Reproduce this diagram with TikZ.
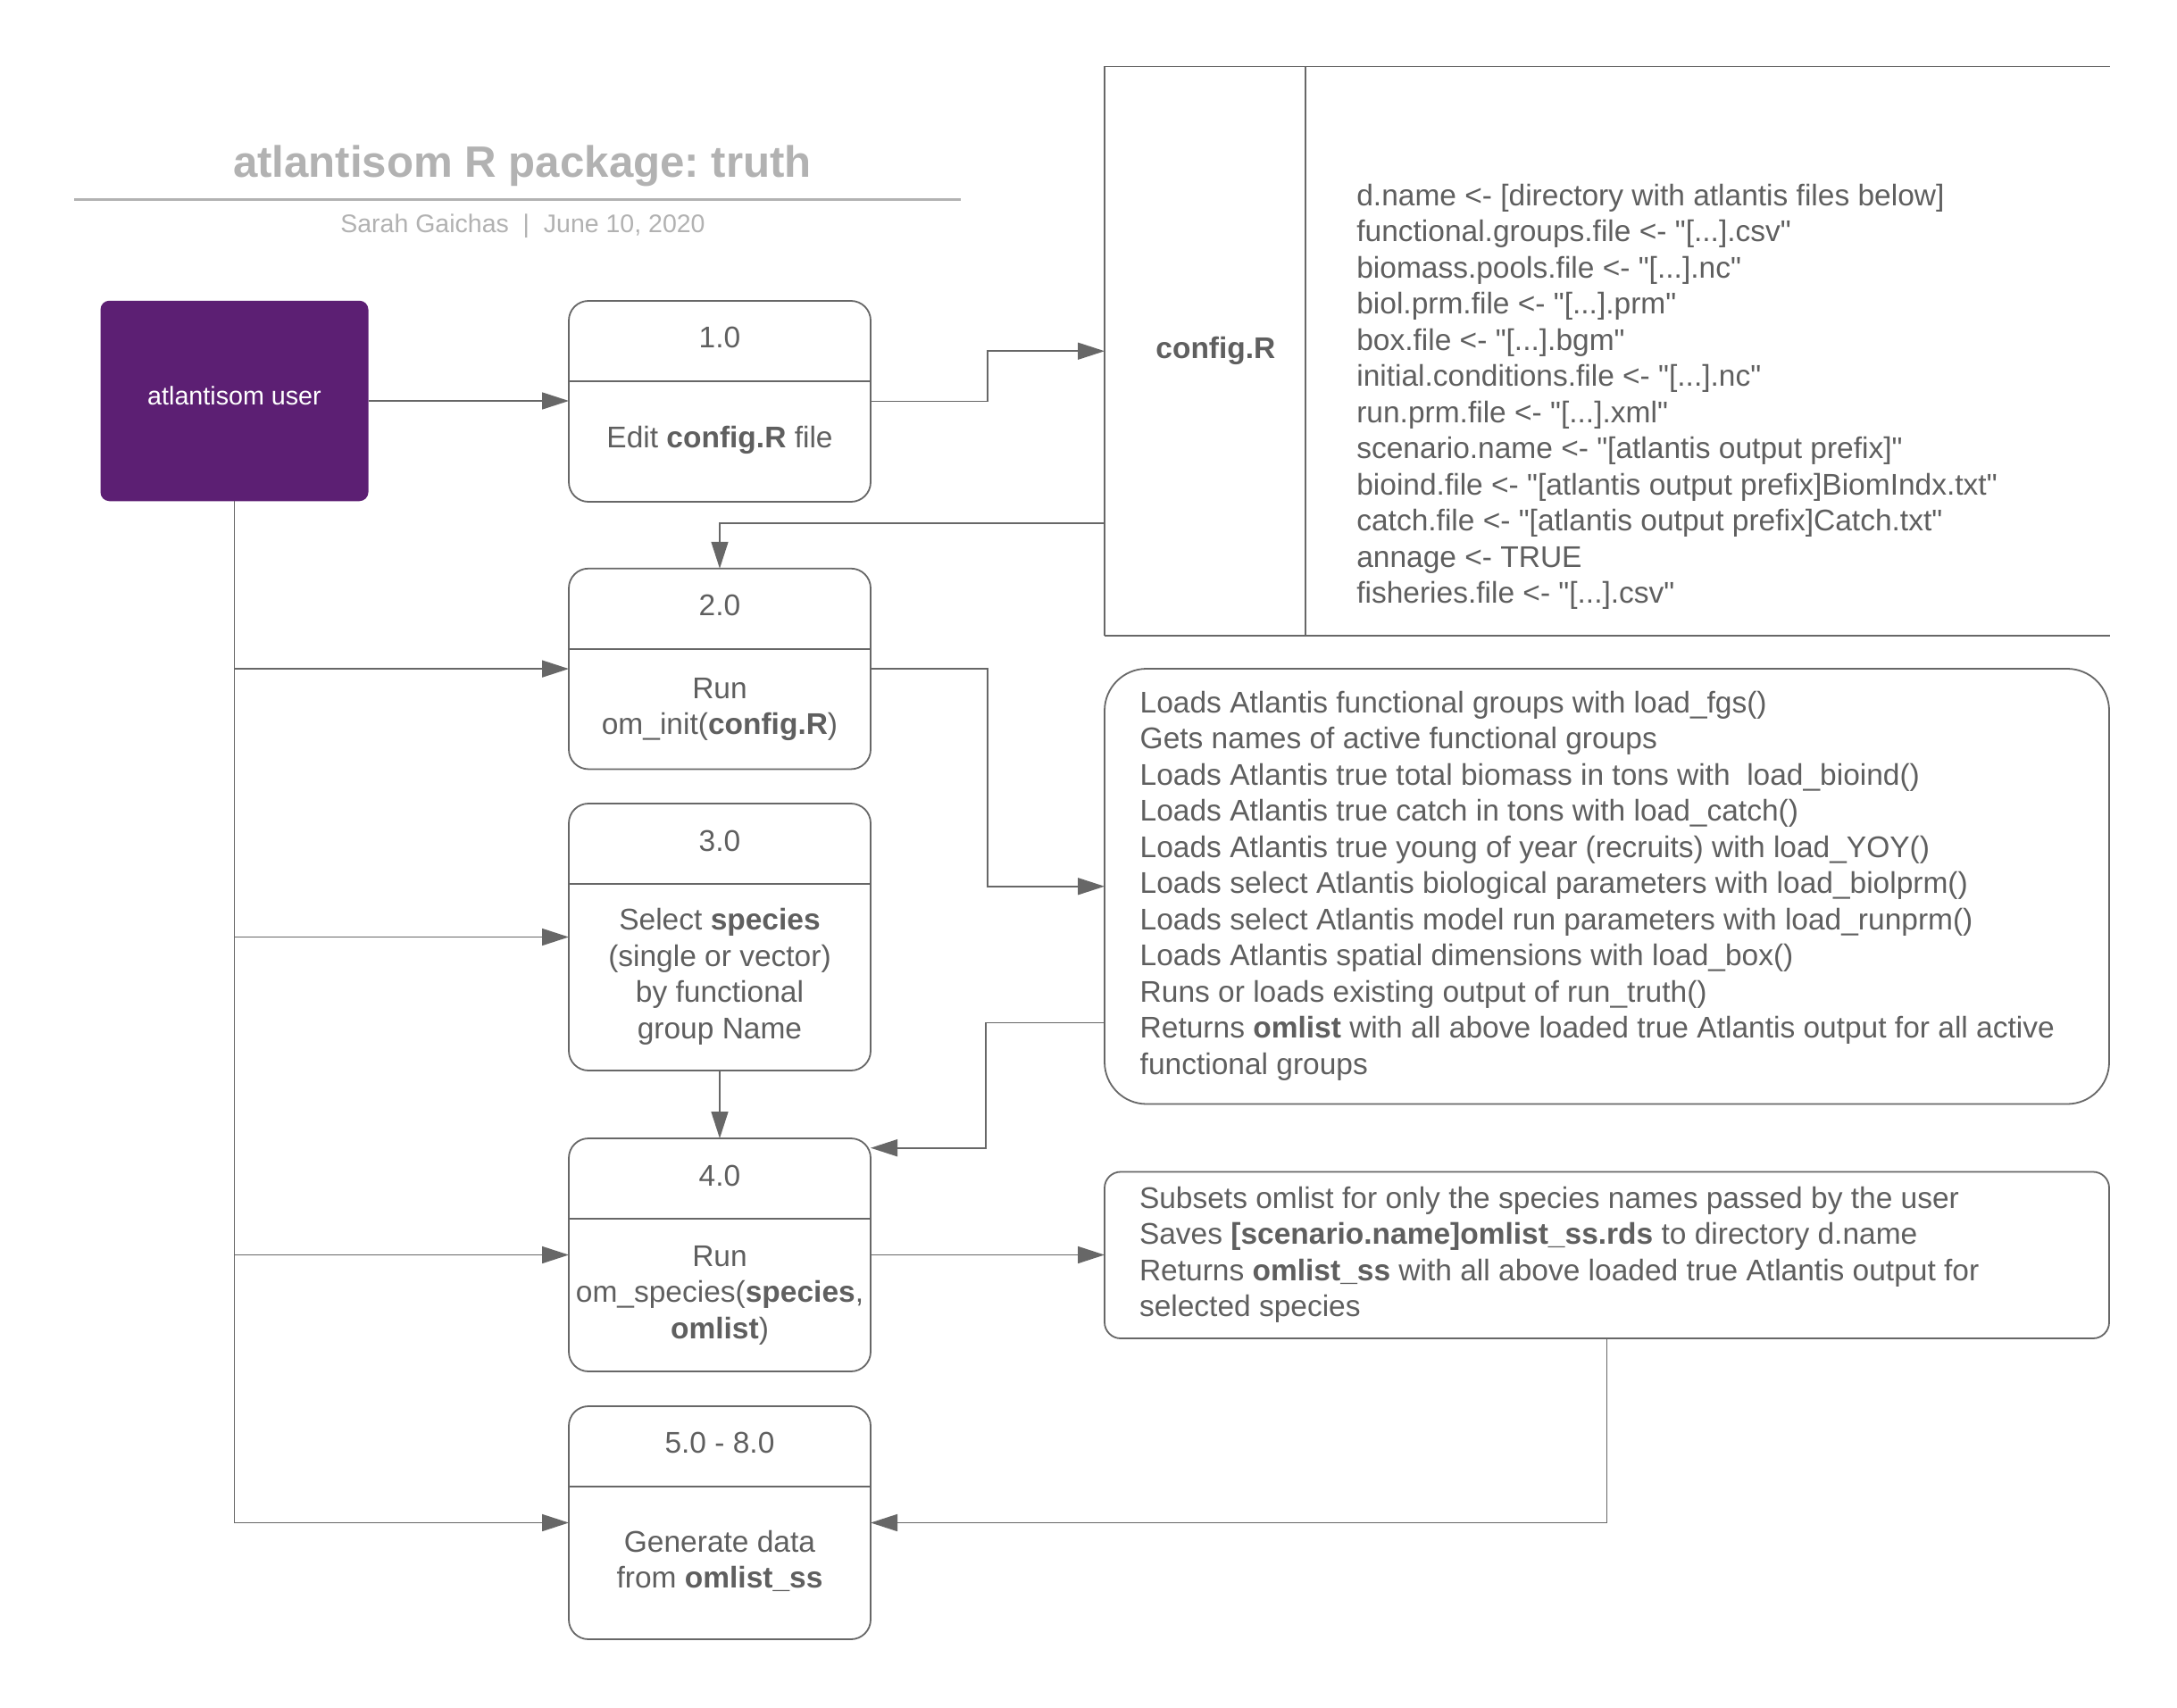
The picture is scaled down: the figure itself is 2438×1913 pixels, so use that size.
\documentclass[tikz,border=0pt]{standalone}
\usepackage{fontspec}
\setmainfont{Liberation Sans}[Ligatures=TeXOff]
\usetikzlibrary{arrows.meta,calc}
\definecolor{txt}{HTML}{5F5F5F}
\definecolor{ln}{HTML}{676767}
\definecolor{ttl}{HTML}{B2B2B2}
\definecolor{purp}{HTML}{5C1F73}
\newcommand{\bodyfont}{\fontsize{33.5}{40.5}\selectfont}
\newcommand{\lstrut}{\rule[-0.2em]{0pt}{1.12em}}
\frenchspacing
\begin{document}
\begin{tikzpicture}[x=1pt,y=-1pt,
  arr/.style={draw=ln,line width=1.6pt,-{Triangle[length=30pt,width=19pt]}},
  conn/.style={draw=ln,line width=1.6pt},
  procbox/.style={draw=ln,line width=1.8pt,rounded corners=22pt,minimum width=338pt,inner sep=0pt,outer sep=0pt},
  divline/.style={draw=ln,line width=1.5pt},
  lbl/.style={inner sep=0pt,outer sep=0pt,text=txt,font=\bodyfont,align=center},
  lbll/.style={inner sep=0pt,outer sep=0pt,text=txt,font=\bodyfont,align=left,anchor=west},
  frame/.style={inner sep=0pt,outer sep=0pt}
]
\useasboundingbox[fill=white] (0,0) rectangle (2438,1913);

% title block
\node[anchor=base,inner sep=0pt,text=ttl,font=\fontsize{49.2}{58}\selectfont\bfseries] (title) at (585,198.5) {atlantisom R package: truth};
\draw[ttl,line width=3.7pt] (83.3,223.5) -- (1076.2,223.5);
\node[anchor=base,inner sep=0pt,text=ttl,font=\fontsize{28.5}{34}\selectfont] (subtitle) at (585.5,260) {Sarah Gaichas\ \ |\ \ June 10, 2020};

% user
\node[frame,fill=purp,rounded corners=10pt,minimum width=300pt,minimum height=224.5pt] (user) at (262.5,449) {};
\node[anchor=base,inner sep=0pt,text=white,font=\fontsize{28.7}{34}\selectfont] (ulbl) at (262.5,453.3) {atlantisom user};

% process boxes
\node[procbox,minimum height=225pt] (b1) at (806,449.5) {};
\node[procbox,minimum height=224.7pt] (b2) at (806,749.1) {};
\node[procbox,minimum height=299pt] (b3) at (806,1049.5) {};
\node[procbox,minimum height=261pt] (b4) at (806,1405.5) {};
\node[procbox,minimum height=261pt] (b5) at (806,1705.5) {};
\foreach \b in {b1,b2,b3,b4,b5}{
  \draw[divline] ([yshift=-90pt]\b.north west) -- ([yshift=-90pt]\b.north east);
}
\node[lbl] (h1) at (806,377.5) {\lstrut 1.0};
\node[lbl] (t1) at (806,489.7) {\lstrut Edit \textbf{config.R} file};
\node[lbl] (h2) at (806,677.8) {\lstrut 2.0};
\node[lbl] (t2) at (806,790.6) {\lstrut Run\\\lstrut om\_init(\textbf{config.R})};
\node[lbl] (h3) at (806,941) {\lstrut 3.0};
\node[lbl] (t3) at (806,1090.8) {\lstrut Select \textbf{species}\\\lstrut (single or vector)\\\lstrut by functional\\\lstrut group Name};
\node[lbl] (h4) at (806,1316.5) {\lstrut 4.0};
\node[lbl] (t4) at (806,1446.9) {\lstrut Run\\\lstrut om\_species(\textbf{species},\\\lstrut \textbf{omlist})};
\node[lbl] (h5) at (806,1615.5) {\lstrut 5.0 - 8.0};
\node[lbl] (t5) at (806,1746.2) {\lstrut Generate data\\\lstrut from \textbf{omlist\_ss}};

% config.R table
\node[frame,minimum width=1125.5pt,minimum height=637.5pt] (cfg) at (1799.75,393.25) {};
\draw[ln,line width=1.2pt] (cfg.north west) -- (cfg.north east);
\draw[ln,line width=1.6pt] (cfg.north west) -- (cfg.south west);
\draw[ln,line width=1.4pt] ([xshift=225pt]cfg.north west) -- ([xshift=225pt]cfg.south west);
\draw[ln,line width=2.6pt] (cfg.south west) -- (cfg.south east);
\node[lbl,font=\bodyfont\bfseries] (cfgname) at (1361.4,390) {\lstrut config.R};
\node[lbll] (cfgtext) at (1519.3,440.9) {%
\lstrut d.name <- [directory with atlantis files below]\\
\lstrut functional.groups.file <- "[...].csv"\\
\lstrut biomass.pools.file <- "[...].nc"\\
\lstrut biol.prm.file <- "[...].prm"\\
\lstrut box.file <- "[...].bgm"\\
\lstrut initial.conditions.file <- "[...].nc"\\
\lstrut run.prm.file <- "[...].xml"\\
\lstrut scenario.name <- "[atlantis output prefix]"\\
\lstrut bioind.file <- "[atlantis output prefix]BiomIndx.txt"\\
\lstrut catch.file <- "[atlantis output prefix]Catch.txt"\\
\lstrut annage <- TRUE\\
\lstrut fisheries.file <- "[...].csv"};

% load box
\node[frame,draw=ln,line width=1.8pt,rounded corners=47pt,minimum width=1125pt,minimum height=487.5pt] (load) at (1799.5,992.75) {};
\node[lbll] (loadtext) at (1276.7,988.7) {%
\lstrut Loads Atlantis functional groups with load\_fgs()\\
\lstrut Gets names of active functional groups\\
\lstrut Loads Atlantis true total biomass in tons with\ \ load\_bioind()\\
\lstrut Loads Atlantis true catch in tons with load\_catch()\\
\lstrut Loads Atlantis true young of year (recruits) with load\_YOY()\\
\lstrut Loads select Atlantis biological parameters with load\_biolprm()\\
\lstrut Loads select Atlantis model run parameters with load\_runprm()\\
\lstrut Loads Atlantis spatial dimensions with load\_box()\\
\lstrut Runs or loads existing output of run\_truth()\\
\lstrut Returns \textbf{omlist} with all above loaded true Atlantis output for all active\\
\lstrut functional groups};

% subsets box
\node[frame,draw=ln,line width=1.8pt,rounded corners=18pt,minimum width=1125pt,minimum height=186.5pt] (subs) at (1799.5,1405.75) {};
\node[lbll] (substext) at (1276,1401.9) {%
\lstrut Subsets omlist for only the species names passed by the user\\
\lstrut Saves \textbf{[scenario.name]omlist\_ss.rds} to directory d.name\\
\lstrut Returns \textbf{omlist\_ss} with all above loaded true Atlantis output for\\
\lstrut selected species};

% connectors
\draw[arr] (user.east) -- (user.east -| b1.west);
\draw[arr] (b1.east) -- ([xshift=131pt]b1.east) |- (cfg.west);
\draw[arr] ([yshift=-192.5pt]cfg.west) -| (b2.north);
\draw[arr] (b2.east) -- ([xshift=131pt]b2.east) |- (load.west);
\draw[arr] ([yshift=-152.6pt]load.west) -| ([xshift=129pt,yshift=-10.7pt]b4.north east) -- ([yshift=-10.7pt]b4.north east);
\draw[arr] (b3.south) -- (b4.north);
\draw[arr] (b4.east) -- (b4.east -| subs.west);
\draw[arr] (subs.south) |- (b5.east);
\draw[arr] (user.south) |- (b5.west);
\draw[arr] (user.south |- b2.west) -- (b2.west);
\draw[arr] (user.south |- b3.west) -- (b3.west);
\draw[arr] (user.south |- b4.west) -- (b4.west);
\end{tikzpicture}
\end{document}
